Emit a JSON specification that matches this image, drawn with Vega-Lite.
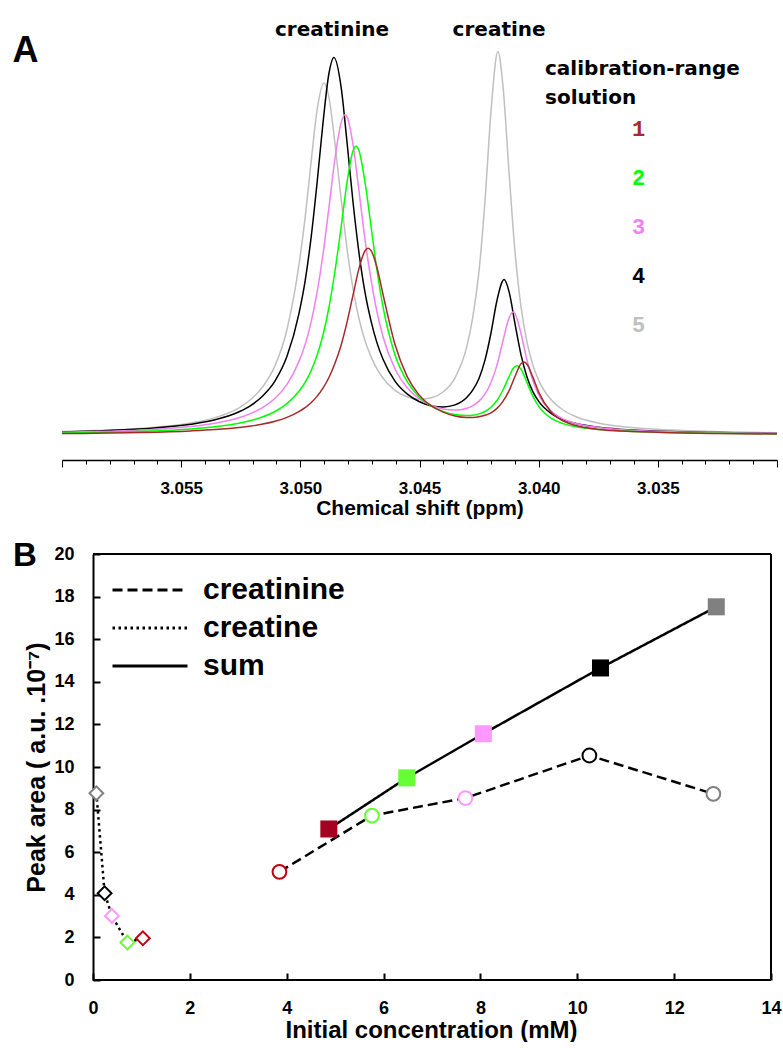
{
  "$schema": "https://vega.github.io/schema/vega-lite/v6.json",
  "background": "white",
  "padding": {"left": 12, "top": 20, "right": 0, "bottom": 0},
  "spacing": 22,
  "config": {"font": "Liberation Sans", "view": {"stroke": null}},
  "resolve": {"scale": {"color": "independent"}, "legend": {"color": "independent", "strokeDash": "independent"}},
  "datasets": {
    "spectra": [
      {"s":"5","ppm":3.0600,"I":28.5},{"s":"5","ppm":3.05862,"I":29.4},{"s":"5","ppm":3.05660,"I":31.8},{"s":"5","ppm":3.05459,"I":37.0},{"s":"5","ppm":3.05358,"I":42.4},{"s":"5","ppm":3.05257,"I":52.2},{"s":"5","ppm":3.05207,"I":60.7},{"s":"5","ppm":3.05157,"I":73.5},{"s":"5","ppm":3.05106,"I":94.4},{"s":"5","ppm":3.05056,"I":130.5},{"s":"5","ppm":3.05006,"I":194.8},{"s":"5","ppm":3.04980,"I":242.1},{"s":"5","ppm":3.04955,"I":297.6},{"s":"5","ppm":3.04930,"I":349.5},{"s":"5","ppm":3.04901,"I":377.1},{"s":"5","ppm":3.04880,"I":362.7},{"s":"5","ppm":3.04855,"I":317.0},{"s":"5","ppm":3.04829,"I":261.3},{"s":"5","ppm":3.04804,"I":211.2},{"s":"5","ppm":3.04779,"I":171.4},{"s":"5","ppm":3.04754,"I":141.5},{"s":"5","ppm":3.04729,"I":119.5},{"s":"5","ppm":3.04703,"I":103.1},{"s":"5","ppm":3.04678,"I":90.9},{"s":"5","ppm":3.04653,"I":81.7},{"s":"5","ppm":3.04603,"I":69.7},{"s":"5","ppm":3.04552,"I":63.2},{"s":"5","ppm":3.04502,"I":60.7},{"s":"5","ppm":3.04452,"I":62.1},{"s":"5","ppm":3.04401,"I":68.0},{"s":"5","ppm":3.04351,"I":82.2},{"s":"5","ppm":3.04301,"I":113.9},{"s":"5","ppm":3.04276,"I":143.4},{"s":"5","ppm":3.04250,"I":189.6},{"s":"5","ppm":3.04225,"I":259.7},{"s":"5","ppm":3.04200,"I":348.6},{"s":"5","ppm":3.04171,"I":408.5},{"s":"5","ppm":3.04150,"I":374.6},{"s":"5","ppm":3.04124,"I":286.8},{"s":"5","ppm":3.04099,"I":207.5},{"s":"5","ppm":3.04074,"I":153.1},{"s":"5","ppm":3.04049,"I":117.8},{"s":"5","ppm":3.04024,"I":94.7},{"s":"5","ppm":3.03999,"I":79.1},{"s":"5","ppm":3.03948,"I":60.4},{"s":"5","ppm":3.03898,"I":50.0},{"s":"5","ppm":3.03848,"I":43.8},{"s":"5","ppm":3.03747,"I":36.8},{"s":"5","ppm":3.03646,"I":33.3},{"s":"5","ppm":3.03445,"I":29.9},{"s":"5","ppm":3.03243,"I":28.3},{"s":"5","ppm":3.0300,"I":27.2},
      {"s":"4","ppm":3.0600,"I":28.1},{"s":"4","ppm":3.05862,"I":29.0},{"s":"4","ppm":3.05660,"I":31.2},{"s":"4","ppm":3.05459,"I":35.7},{"s":"4","ppm":3.05358,"I":40.2},{"s":"4","ppm":3.05257,"I":48.2},{"s":"4","ppm":3.05207,"I":54.7},{"s":"4","ppm":3.05157,"I":64.3},{"s":"4","ppm":3.05106,"I":79.2},{"s":"4","ppm":3.05056,"I":103.7},{"s":"4","ppm":3.05006,"I":146.2},{"s":"4","ppm":3.04980,"I":178.9},{"s":"4","ppm":3.04955,"I":222.1},{"s":"4","ppm":3.04930,"I":276.5},{"s":"4","ppm":3.04905,"I":336.9},{"s":"4","ppm":3.04880,"I":386.5},{"s":"4","ppm":3.04859,"I":402.5},{"s":"4","ppm":3.04829,"I":373.1},{"s":"4","ppm":3.04804,"I":317.5},{"s":"4","ppm":3.04779,"I":258.0},{"s":"4","ppm":3.04754,"I":207.3},{"s":"4","ppm":3.04729,"I":168.1},{"s":"4","ppm":3.04703,"I":138.7},{"s":"4","ppm":3.04678,"I":116.9},{"s":"4","ppm":3.04653,"I":100.7},{"s":"4","ppm":3.04603,"I":78.9},{"s":"4","ppm":3.04552,"I":66.1},{"s":"4","ppm":3.04502,"I":58.5},{"s":"4","ppm":3.04452,"I":54.3},{"s":"4","ppm":3.04401,"I":53.1},{"s":"4","ppm":3.04351,"I":55.1},{"s":"4","ppm":3.04301,"I":62.7},{"s":"4","ppm":3.04276,"I":70.1},{"s":"4","ppm":3.04250,"I":81.8},{"s":"4","ppm":3.04225,"I":100.1},{"s":"4","ppm":3.04200,"I":127.0},{"s":"4","ppm":3.04175,"I":159.5},{"s":"4","ppm":3.04145,"I":180.4},{"s":"4","ppm":3.04124,"I":168.1},{"s":"4","ppm":3.04099,"I":135.8},{"s":"4","ppm":3.04074,"I":105.1},{"s":"4","ppm":3.04049,"I":83.0},{"s":"4","ppm":3.04024,"I":68.2},{"s":"4","ppm":3.03999,"I":58.4},{"s":"4","ppm":3.03948,"I":46.6},{"s":"4","ppm":3.03898,"I":40.4},{"s":"4","ppm":3.03848,"I":36.7},{"s":"4","ppm":3.03747,"I":32.7},{"s":"4","ppm":3.03646,"I":30.6},{"s":"4","ppm":3.03445,"I":28.4},{"s":"4","ppm":3.03243,"I":27.4},{"s":"4","ppm":3.0300,"I":26.6},
      {"s":"3","ppm":3.0600,"I":27.7},{"s":"3","ppm":3.05862,"I":28.4},{"s":"3","ppm":3.05660,"I":30.1},{"s":"3","ppm":3.05459,"I":33.5},{"s":"3","ppm":3.05358,"I":36.8},{"s":"3","ppm":3.05257,"I":42.2},{"s":"3","ppm":3.05207,"I":46.6},{"s":"3","ppm":3.05157,"I":52.7},{"s":"3","ppm":3.05106,"I":61.7},{"s":"3","ppm":3.05056,"I":75.6},{"s":"3","ppm":3.05006,"I":98.4},{"s":"3","ppm":3.04980,"I":115.4},{"s":"3","ppm":3.04955,"I":137.7},{"s":"3","ppm":3.04930,"I":167.3},{"s":"3","ppm":3.04905,"I":205.7},{"s":"3","ppm":3.04880,"I":252.3},{"s":"3","ppm":3.04855,"I":301.0},{"s":"3","ppm":3.04829,"I":337.1},{"s":"3","ppm":3.04813,"I":345.2},{"s":"3","ppm":3.04804,"I":343.2},{"s":"3","ppm":3.04779,"I":315.7},{"s":"3","ppm":3.04754,"I":269.3},{"s":"3","ppm":3.04729,"I":221.0},{"s":"3","ppm":3.04703,"I":179.9},{"s":"3","ppm":3.04678,"I":147.7},{"s":"3","ppm":3.04653,"I":123.3},{"s":"3","ppm":3.04603,"I":91.2},{"s":"3","ppm":3.04552,"I":72.5},{"s":"3","ppm":3.04502,"I":61.4},{"s":"3","ppm":3.04452,"I":54.7},{"s":"3","ppm":3.04401,"I":51.0},{"s":"3","ppm":3.04351,"I":49.9},{"s":"3","ppm":3.04301,"I":51.8},{"s":"3","ppm":3.04276,"I":54.4},{"s":"3","ppm":3.04250,"I":58.9},{"s":"3","ppm":3.04225,"I":66.1},{"s":"3","ppm":3.04200,"I":77.5},{"s":"3","ppm":3.04175,"I":94.9},{"s":"3","ppm":3.04150,"I":119.0},{"s":"3","ppm":3.04124,"I":142.1},{"s":"3","ppm":3.04108,"I":147.9},{"s":"3","ppm":3.04099,"I":146.2},{"s":"3","ppm":3.04074,"I":126.3},{"s":"3","ppm":3.04049,"I":100.0},{"s":"3","ppm":3.04024,"I":79.2},{"s":"3","ppm":3.03999,"I":64.9},{"s":"3","ppm":3.03948,"I":48.9},{"s":"3","ppm":3.03898,"I":41.1},{"s":"3","ppm":3.03848,"I":36.8},{"s":"3","ppm":3.03747,"I":32.5},{"s":"3","ppm":3.03646,"I":30.3},{"s":"3","ppm":3.03445,"I":28.2},{"s":"3","ppm":3.03243,"I":27.2},{"s":"3","ppm":3.0300,"I":26.5},
      {"s":"2","ppm":3.0600,"I":27.0},{"s":"2","ppm":3.05862,"I":27.5},{"s":"2","ppm":3.05660,"I":28.7},{"s":"2","ppm":3.05459,"I":31.1},{"s":"2","ppm":3.05358,"I":33.3},{"s":"2","ppm":3.05257,"I":36.8},{"s":"2","ppm":3.05207,"I":39.5},{"s":"2","ppm":3.05157,"I":43.2},{"s":"2","ppm":3.05106,"I":48.5},{"s":"2","ppm":3.05056,"I":56.4},{"s":"2","ppm":3.05006,"I":68.7},{"s":"2","ppm":3.04980,"I":77.5},{"s":"2","ppm":3.04955,"I":89.1},{"s":"2","ppm":3.04930,"I":104.4},{"s":"2","ppm":3.04905,"I":125.0},{"s":"2","ppm":3.04880,"I":152.5},{"s":"2","ppm":3.04855,"I":188.5},{"s":"2","ppm":3.04829,"I":232.6},{"s":"2","ppm":3.04804,"I":277.9},{"s":"2","ppm":3.04779,"I":309.1},{"s":"2","ppm":3.04766,"I":313.7},{"s":"2","ppm":3.04754,"I":309.3},{"s":"2","ppm":3.04729,"I":278.3},{"s":"2","ppm":3.04703,"I":233.0},{"s":"2","ppm":3.04678,"I":189.0},{"s":"2","ppm":3.04653,"I":153.1},{"s":"2","ppm":3.04603,"I":105.3},{"s":"2","ppm":3.04552,"I":78.7},{"s":"2","ppm":3.04502,"I":63.3},{"s":"2","ppm":3.04452,"I":54.2},{"s":"2","ppm":3.04401,"I":48.6},{"s":"2","ppm":3.04351,"I":45.4},{"s":"2","ppm":3.04301,"I":44.4},{"s":"2","ppm":3.04276,"I":44.8},{"s":"2","ppm":3.04250,"I":46.1},{"s":"2","ppm":3.04225,"I":48.5},{"s":"2","ppm":3.04200,"I":52.7},{"s":"2","ppm":3.04175,"I":59.5},{"s":"2","ppm":3.04150,"I":70.0},{"s":"2","ppm":3.04124,"I":83.5},{"s":"2","ppm":3.04108,"I":91.3},{"s":"2","ppm":3.04091,"I":94.3},{"s":"2","ppm":3.04074,"I":90.7},{"s":"2","ppm":3.04049,"I":77.4},{"s":"2","ppm":3.04024,"I":63.6},{"s":"2","ppm":3.03999,"I":53.4},{"s":"2","ppm":3.03948,"I":41.9},{"s":"2","ppm":3.03898,"I":36.4},{"s":"2","ppm":3.03848,"I":33.4},{"s":"2","ppm":3.03747,"I":30.4},{"s":"2","ppm":3.03646,"I":28.9},{"s":"2","ppm":3.03445,"I":27.4},{"s":"2","ppm":3.03243,"I":26.7},{"s":"2","ppm":3.0300,"I":26.2},
      {"s":"1","ppm":3.0600,"I":26.4},{"s":"1","ppm":3.05862,"I":26.7},{"s":"1","ppm":3.05660,"I":27.5},{"s":"1","ppm":3.05459,"I":29.1},{"s":"1","ppm":3.05358,"I":30.4},{"s":"1","ppm":3.05257,"I":32.4},{"s":"1","ppm":3.05207,"I":33.9},{"s":"1","ppm":3.05157,"I":35.9},{"s":"1","ppm":3.05106,"I":38.7},{"s":"1","ppm":3.05056,"I":42.6},{"s":"1","ppm":3.05006,"I":48.3},{"s":"1","ppm":3.04980,"I":52.3},{"s":"1","ppm":3.04955,"I":57.2},{"s":"1","ppm":3.04930,"I":63.6},{"s":"1","ppm":3.04905,"I":71.8},{"s":"1","ppm":3.04880,"I":82.5},{"s":"1","ppm":3.04855,"I":96.5},{"s":"1","ppm":3.04829,"I":114.8},{"s":"1","ppm":3.04804,"I":137.9},{"s":"1","ppm":3.04779,"I":164.8},{"s":"1","ppm":3.04754,"I":191.4},{"s":"1","ppm":3.04729,"I":209.0},{"s":"1","ppm":3.04716,"I":211.8},{"s":"1","ppm":3.04703,"I":209.4},{"s":"1","ppm":3.04678,"I":192.0},{"s":"1","ppm":3.04653,"I":165.5},{"s":"1","ppm":3.04603,"I":115.7},{"s":"1","ppm":3.04552,"I":83.6},{"s":"1","ppm":3.04502,"I":65.1},{"s":"1","ppm":3.04452,"I":54.3},{"s":"1","ppm":3.04401,"I":47.9},{"s":"1","ppm":3.04351,"I":44.1},{"s":"1","ppm":3.04301,"I":42.6},{"s":"1","ppm":3.04276,"I":42.6},{"s":"1","ppm":3.04250,"I":43.2},{"s":"1","ppm":3.04225,"I":44.7},{"s":"1","ppm":3.04200,"I":47.2},{"s":"1","ppm":3.04175,"I":51.6},{"s":"1","ppm":3.04150,"I":58.6},{"s":"1","ppm":3.04124,"I":69.3},{"s":"1","ppm":3.04099,"I":83.7},{"s":"1","ppm":3.04074,"I":96.2},{"s":"1","ppm":3.04062,"I":98.0},{"s":"1","ppm":3.04049,"I":95.8},{"s":"1","ppm":3.04024,"I":82.6},{"s":"1","ppm":3.03999,"I":67.4},{"s":"1","ppm":3.03948,"I":48.0},{"s":"1","ppm":3.03898,"I":39.1},{"s":"1","ppm":3.03848,"I":34.7},{"s":"1","ppm":3.03747,"I":30.6},{"s":"1","ppm":3.03646,"I":28.9},{"s":"1","ppm":3.03445,"I":27.3},{"s":"1","ppm":3.03243,"I":26.5},{"s":"1","ppm":3.0300,"I":26.0}
    ],
    "peaks": [
      {"t":"creatinine","ppm":3.04867,"I":424},
      {"t":"creatine","ppm":3.04166,"I":424}
    ],
    "areas": [
      {"series":"creatine","sol":"1","conc":1.03,"area":1.96},
      {"series":"creatine","sol":"2","conc":0.71,"area":1.76},
      {"series":"creatine","sol":"3","conc":0.39,"area":3.01},
      {"series":"creatine","sol":"4","conc":0.24,"area":4.07},
      {"series":"creatine","sol":"5","conc":0.07,"area":8.77},
      {"series":"creatinine","sol":"1","conc":3.85,"area":5.08},
      {"series":"creatinine","sol":"2","conc":5.76,"area":7.72},
      {"series":"creatinine","sol":"3","conc":7.69,"area":8.54},
      {"series":"creatinine","sol":"4","conc":10.25,"area":10.54},
      {"series":"creatinine","sol":"5","conc":12.81,"area":8.74},
      {"series":"sum","sol":"1","conc":4.87,"area":7.09},
      {"series":"sum","sol":"2","conc":6.48,"area":9.49},
      {"series":"sum","sol":"3","conc":8.06,"area":11.56},
      {"series":"sum","sol":"4","conc":10.48,"area":14.65},
      {"series":"sum","sol":"5","conc":12.87,"area":17.52}
    ]
  },
  "vconcat": [
    {
      "width": 715,
      "height": 420,
      "resolve": {"axis": {"x": "independent"}},
      "layer": [
        {
          "data": {"name": "spectra"},
          "mark": {"type": "line", "strokeWidth": 1.5, "interpolate": "monotone"},
          "encoding": {
            "x": {
              "field": "ppm", "type": "quantitative",
              "scale": {"domain": [3.06, 3.03], "nice": false, "zero": false},
              "axis": {
                "orient": "bottom",
                "values": [3.06, 3.055, 3.05, 3.045, 3.04, 3.035, 3.03],
                "labelExpr": "datum.value < 3.059 && datum.value > 3.031 ? format(datum.value, '.3f') : ''",
                "tickSize": 7,
                "tickColor": "black",
                "tickWidth": 1,
                "domainColor": "black",
                "domainWidth": 1.5,
                "grid": false,
                "labelFontSize": 17,
                "labelFontWeight": "bold",
                "labelColor": "black",
                "labelPadding": 13,
                "labelFlush": false,
                "labelOverlap": false,
                "title": "Chemical shift (ppm)",
                "titleFontSize": 21,
                "titleFontWeight": "bold",
                "titleColor": "black",
                "titlePadding": 1
              }
            },
            "y": {"field": "I", "type": "quantitative", "scale": {"domain": [0, 420], "nice": false, "zero": false}, "axis": null},
            "order": {"field": "ppm", "type": "quantitative", "sort": "descending"},
            "color": {
              "field": "s", "type": "nominal",
              "scale": {"domain": ["1","2","3","4","5"], "range": ["#A52A2A","#00FF00","#EE82EE","#000000","#C0C0C0"]},
              "legend": {
                "title": ["calibration-range", "solution"],
                "orient": "none",
                "legendX": 483,
                "legendY": 19,
                "titleFont": "DejaVu Sans",
                "titleFontSize": 20,
                "titleFontWeight": "bold",
                "titleColor": "black",
                "titleLineHeight": 29,
                "titlePadding": 10,
                "titleLimit": 400,
                "labelFont": "Liberation Mono",
                "labelFontSize": 22,
                "labelFontWeight": "bold",
                "labelOffset": 65,
                "symbolOpacity": 0,
                "symbolSize": 1,
                "symbolStrokeWidth": 0,
                "clipHeight": 22,
                "rowPadding": 27,
                "encode": {"labels": {"update": {"fill": {"signal": "datum.label === '1' ? '#A52A2A' : datum.label === '2' ? '#00FF00' : datum.label === '3' ? '#EE82EE' : datum.label === '4' ? '#000000' : '#C0C0C0'"}}}}
              }
            }
          }
        },
        {
          "data": {"name": "peaks"},
          "mark": {"type": "text", "font": "DejaVu Sans", "fontSize": 20, "fontWeight": "bold", "align": "center", "baseline": "alphabetic", "color": "black"},
          "encoding": {
            "x": {
              "field": "ppm", "type": "quantitative",
              "axis": {
                "orient": "bottom",
                "values": [3.059,3.058,3.057,3.056,3.054,3.053,3.052,3.051,3.049,3.048,3.047,3.046,3.044,3.043,3.042,3.041,3.039,3.038,3.037,3.036,3.034,3.033,3.032,3.031],
                "labels": false,
                "domain": false,
                "grid": false,
                "tickSize": 4,
                "tickColor": "black",
                "tickWidth": 1,
                "title": null
              }
            },
            "y": {"field": "I", "type": "quantitative"},
            "text": {"field": "t"}
          }
        },
        {
          "data": {"values": [{"t": "A", "ppm": 3.06153, "I": 398}]},
          "mark": {"type": "text", "font": "Liberation Sans", "fontSize": 36, "fontWeight": "bold", "align": "center", "baseline": "alphabetic", "color": "black"},
          "encoding": {
            "x": {"field": "ppm", "type": "quantitative", "axis": null},
            "y": {"field": "I", "type": "quantitative"},
            "text": {"field": "t"}
          }
        }
      ]
    },
    {
      "width": 709,
      "height": 426,
      "layer": [
        {
          "data": {"values": [{}]},
          "mark": {"type": "rule", "color": "black", "strokeWidth": 2},
          "encoding": {
            "x": {"datum": 0, "type": "quantitative"},
            "x2": {"datum": 14},
            "y": {"datum": 20, "type": "quantitative"}
          }
        },
        {
          "data": {"values": [{}]},
          "mark": {"type": "rule", "color": "black", "strokeWidth": 2},
          "encoding": {
            "x": {"datum": 0, "type": "quantitative"},
            "x2": {"datum": 14},
            "y": {"datum": 0, "type": "quantitative"}
          }
        },
        {
          "data": {"values": [{}]},
          "mark": {"type": "rule", "color": "black", "strokeWidth": 2},
          "encoding": {
            "x": {"datum": 14, "type": "quantitative"},
            "y": {"datum": 0, "type": "quantitative"},
            "y2": {"datum": 20}
          }
        },
        {
          "data": {"name": "areas"},
          "mark": {"type": "line", "color": "black", "strokeWidth": 2.5},
          "encoding": {
            "x": {
              "field": "conc", "type": "quantitative",
              "scale": {"domain": [-0.6401, 14], "nice": false, "zero": false},
              "axis": {
                "values": [0,2,4,6,8,10,12,14],
                "title": "Initial concentration (mM)",
                "titleFontSize": 24, "titleFontWeight": "bold", "titleColor": "black", "titlePadding": 1,
                "titleX": 369,
                "labelFontSize": 18, "labelFontWeight": "bold", "labelColor": "black", "labelPadding": 26, "labelFlush": false,
                "tickSize": -7, "tickColor": "black", "tickWidth": 2,
                "domain": false, "grid": false
              }
            },
            "y": {
              "field": "area", "type": "quantitative",
              "scale": {"domain": [0, 20], "nice": false},
              "axis": {
                "values": [0,2,4,6,8,10,12,14,16,18,20],
                "offset": -31,
                "title": "Peak area ( a.u. .10⁻⁷)",
                "titleFontSize": 25, "titleFontWeight": "bold", "titleColor": "black", "titlePadding": 4,
                "labelFontSize": 18, "labelFontWeight": "bold", "labelColor": "black", "labelPadding": 26,
                "tickSize": -7, "tickColor": "black", "tickWidth": 2,
                "domainColor": "black", "domainWidth": 2, "grid": false
              }
            },
            "strokeDash": {
              "field": "series", "type": "nominal",
              "scale": {"domain": ["creatinine", "creatine", "sum"], "range": [[10, 5], [2.5, 3.5], [1, 0]]},
              "legend": {
                "title": null,
                "orient": "none",
                "legendX": 49,
                "legendY": 22,
                "symbolType": "stroke",
                "symbolSize": 5625,
                "symbolStrokeWidth": 3,
                "symbolStrokeColor": "black",
                "clipHeight": 28,
                "rowPadding": 8,
                "labelFont": "Liberation Sans",
                "labelFontSize": 30,
                "labelFontWeight": "bold",
                "labelColor": "black",
                "labelOffset": 14
              }
            }
          }
        },
        {
          "data": {"name": "areas"},
          "transform": [{"filter": "datum.series != 'sum'"}],
          "mark": {"type": "point", "filled": true, "fill": "white", "strokeWidth": 2, "size": 190, "opacity": 1},
          "encoding": {
            "x": {"field": "conc", "type": "quantitative"},
            "y": {"field": "area", "type": "quantitative"},
            "shape": {"field": "series", "type": "nominal", "scale": {"domain": ["creatinine", "creatine"], "range": ["circle", "diamond"]}, "legend": null},
            "stroke": {"field": "sol", "type": "nominal", "scale": {"domain": ["1","2","3","4","5"], "range": ["#C00010","#66FF33","#FF99FF","#000000","#808080"]}, "legend": null}
          }
        },
        {
          "data": {"name": "areas"},
          "transform": [{"filter": "datum.series == 'sum'"}],
          "mark": {"type": "square", "size": 290, "opacity": 1},
          "encoding": {
            "x": {"field": "conc", "type": "quantitative"},
            "y": {"field": "area", "type": "quantitative"},
            "color": {"field": "sol", "type": "nominal", "scale": {"domain": ["1","2","3","4","5"], "range": ["#A50021","#66FF33","#FF99FF","#000000","#808080"]}, "legend": null}
          }
        },
        {
          "data": {"values": [{"t": "B", "conc": -1.404, "area": 19.42}]},
          "mark": {"type": "text", "font": "Liberation Sans", "fontSize": 33, "fontWeight": "bold", "align": "center", "baseline": "alphabetic", "color": "black"},
          "encoding": {
            "x": {"field": "conc", "type": "quantitative"},
            "y": {"field": "area", "type": "quantitative"},
            "text": {"field": "t"}
          }
        }
      ]
    }
  ]
}
